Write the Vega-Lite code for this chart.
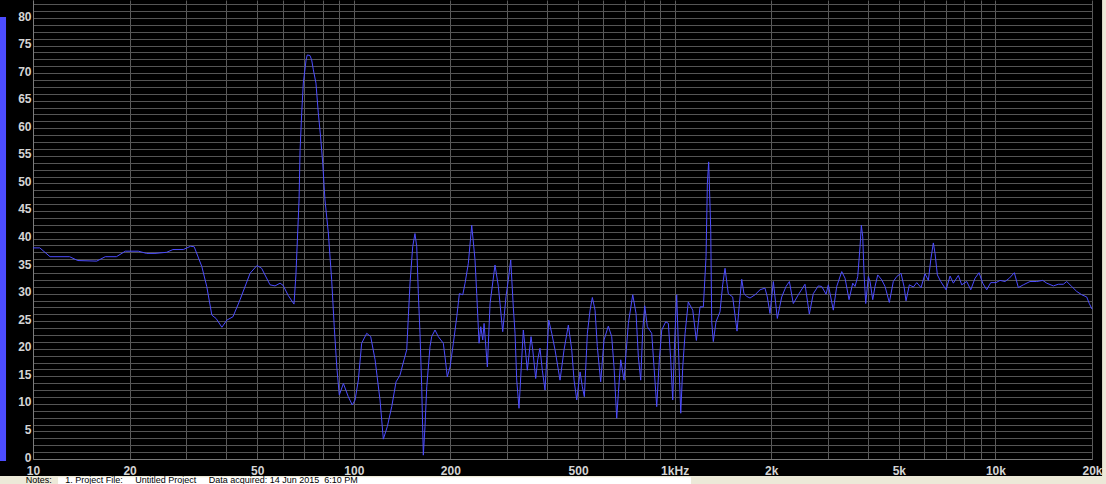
{
  "$schema": "https://vega.github.io/schema/vega-lite/v6.json",
  "autosize": {"type": "none"},
  "padding": {"left": 33, "top": 0, "right": 14, "bottom": 25},
  "width": 1059,
  "height": 459,
  "background": "#000000",
  "config": {
    "view": {"fill": "#000000", "stroke": null}
  },
  "data": {"values": [{"deco": 1}]},
  "datasets": {
    "spectrum": [
      {"f":10,"db":38.3},{"f":10.5,"db":38.3},{"f":11.3,"db":36.7},{"f":13.0,"db":36.7},{"f":13.8,"db":36.0},{"f":15.8,"db":35.9},{"f":16.8,"db":36.7},{"f":18.2,"db":36.7},{"f":19.4,"db":37.7},{"f":21.3,"db":37.7},{"f":22.6,"db":37.3},{"f":24.0,"db":37.3},{"f":26.1,"db":37.5},{"f":27.3,"db":38.0},{"f":29.4,"db":38.0},{"f":31.0,"db":38.6},{"f":31.8,"db":38.5},{"f":33.6,"db":34.9},{"f":34.8,"db":31.3},{"f":36.1,"db":26.1},{"f":37.2,"db":25.5},{"f":38.8,"db":23.9},{"f":40.2,"db":25.2},{"f":42.0,"db":25.8},{"f":44.2,"db":28.9},{"f":47.5,"db":33.7},{"f":49.9,"db":35.1},{"f":51.6,"db":34.6},{"f":54.8,"db":31.6},{"f":56.8,"db":31.4},{"f":58.9,"db":31.9},{"f":60.2,"db":31.5},{"f":62.4,"db":29.7},{"f":65.1,"db":28.1},{"f":66.0,"db":33.4},{"f":67.5,"db":47},{"f":68.0,"db":56},{"f":68.8,"db":62.8},{"f":69.6,"db":68.2},{"f":71.0,"db":72.4},{"f":71.6,"db":73.3},{"f":73.0,"db":73.2},{"f":73.9,"db":72.4},{"f":74.8,"db":70.6},{"f":76.2,"db":68.2},{"f":77.5,"db":62.8},{"f":78.8,"db":58.4},{"f":80.0,"db":53.7},{"f":81.3,"db":47},{"f":83.3,"db":41},{"f":85.3,"db":32.5},{"f":86.9,"db":24},{"f":88.5,"db":16.7},{"f":90.1,"db":11.6},{"f":92.8,"db":13.7},{"f":96.1,"db":11.3},{"f":98.9,"db":9.8},{"f":100.9,"db":10.7},{"f":103.3,"db":14.3},{"f":105.8,"db":21},{"f":109.7,"db":22.8},{"f":112.9,"db":22.2},{"f":116.5,"db":18},{"f":120.7,"db":10.7},{"f":123.6,"db":3.6},{"f":127.2,"db":5.9},{"f":131.3,"db":9.5},{"f":135.4,"db":14},{"f":139.3,"db":15.2},{"f":143.4,"db":18},{"f":146.2,"db":19.8},{"f":147.9,"db":25.8},{"f":149.7,"db":31.9},{"f":152.6,"db":38.5},{"f":155.1,"db":40.9},{"f":157.1,"db":38.5},{"f":158.9,"db":30},{"f":160.8,"db":22.8},{"f":162.8,"db":13.1},{"f":164.7,"db":0.7},{"f":166.7,"db":5.9},{"f":168.8,"db":13.1},{"f":172.8,"db":20.4},{"f":174.9,"db":22.2},{"f":179.1,"db":23.4},{"f":183.4,"db":22.2},{"f":190.1,"db":21},{"f":192.4,"db":18.6},{"f":195.6,"db":14.9},{"f":199.5,"db":16.7},{"f":204.3,"db":21},{"f":209.4,"db":25.8},{"f":213.3,"db":30},{"f":218.6,"db":29.8},{"f":222.2,"db":31.9},{"f":227.5,"db":35.5},{"f":233.1,"db":42.4},{"f":238.7,"db":36.1},{"f":241.6,"db":30},{"f":245.7,"db":21},{"f":248.7,"db":24},{"f":252.3,"db":21.6},{"f":254.7,"db":24.6},{"f":260.8,"db":16.7},{"f":265.9,"db":28.2},{"f":275.5,"db":35.2},{"f":282.2,"db":31.3},{"f":291.2,"db":23.1},{"f":298.2,"db":29.5},{"f":303.1,"db":32.5},{"f":308.4,"db":36.1},{"f":314.2,"db":27.5},{"f":318.1,"db":22.8},{"f":322.0,"db":14.3},{"f":327.3,"db":9.2},{"f":331.4,"db":14.9},{"f":337.6,"db":23.4},{"f":344.2,"db":18.6},{"f":347.4,"db":16.1},{"f":356.8,"db":22.2},{"f":361.2,"db":19.8},{"f":369.0,"db":14.6},{"f":374.3,"db":18},{"f":380.5,"db":20.1},{"f":386.9,"db":16.1},{"f":394.5,"db":12.5},{"f":399.3,"db":18},{"f":405.1,"db":25.2},{"f":414.0,"db":22.8},{"f":423.9,"db":19.8},{"f":439.4,"db":14.3},{"f":452.2,"db":19.8},{"f":466.4,"db":24.3},{"f":477.9,"db":19.8},{"f":485.9,"db":14.3},{"f":495.4,"db":10.7},{"f":507.3,"db":15.8},{"f":515.7,"db":13.1},{"f":523.2,"db":11.3},{"f":534.6,"db":22.8},{"f":545.0,"db":27},{"f":554.1,"db":29.3},{"f":564.9,"db":27},{"f":574.1,"db":20.4},{"f":588.3,"db":14},{"f":602.5,"db":21.6},{"f":621.3,"db":24.1},{"f":636.7,"db":22.2},{"f":647.3,"db":16.7},{"f":660.0,"db":7.4},{"f":667.7,"db":11.9},{"f":679.2,"db":18},{"f":695.6,"db":14.3},{"f":705.6,"db":19.2},{"f":717.4,"db":24.6},{"f":740.4,"db":29.8},{"f":758.2,"db":26.4},{"f":770.7,"db":18.6},{"f":784.1,"db":14.3},{"f":795.4,"db":23.4},{"f":806.9,"db":27.8},{"f":822.1,"db":24},{"f":848.4,"db":22.8},{"f":862.6,"db":16.7},{"f":879.5,"db":9.5},{"f":896.1,"db":18},{"f":911.7,"db":23.4},{"f":938.3,"db":24.9},{"f":956.0,"db":24.6},{"f":972.5,"db":18},{"f":986.5,"db":10.7},{"f":1000.7,"db":21.6},{"f":1015,"db":29.8},{"f":1030,"db":18.6},{"f":1045,"db":8.3},{"f":1060,"db":16.7},{"f":1078,"db":22.8},{"f":1103,"db":28.5},{"f":1139,"db":27},{"f":1169,"db":21.5},{"f":1200,"db":27.6},{"f":1229,"db":27.6},{"f":1253,"db":36.7},{"f":1265,"db":50},{"f":1277,"db":53.9},{"f":1283,"db":50},{"f":1296,"db":41.5},{"f":1305,"db":24.9},{"f":1320,"db":21.3},{"f":1346,"db":24.9},{"f":1385,"db":26.7},{"f":1412,"db":31.6},{"f":1436,"db":34.6},{"f":1470,"db":30},{"f":1517,"db":29.4},{"f":1565,"db":23.2},{"f":1591,"db":28},{"f":1619,"db":32.6},{"f":1645,"db":30},{"f":1678,"db":29.5},{"f":1718,"db":29.2},{"f":1781,"db":29.8},{"f":1846,"db":30.7},{"f":1913,"db":31},{"f":1945,"db":29.4},{"f":1983,"db":26.4},{"f":2031,"db":32.2},{"f":2090,"db":25.5},{"f":2157,"db":29.4},{"f":2225,"db":31.3},{"f":2279,"db":32.2},{"f":2344,"db":28.2},{"f":2430,"db":29.8},{"f":2549,"db":31.7},{"f":2630,"db":26.3},{"f":2706,"db":30},{"f":2805,"db":31.4},{"f":2874,"db":31.3},{"f":2965,"db":29.9},{"f":3014,"db":31.6},{"f":3124,"db":27},{"f":3201,"db":31.3},{"f":3318,"db":34},{"f":3398,"db":32.8},{"f":3497,"db":28.9},{"f":3591,"db":31.9},{"f":3651,"db":31.3},{"f":3722,"db":33.1},{"f":3784,"db":38.5},{"f":3820,"db":42.4},{"f":3858,"db":40.3},{"f":3894,"db":33.7},{"f":3942,"db":28.2},{"f":4016,"db":33.1},{"f":4066,"db":32.2},{"f":4145,"db":28.9},{"f":4214,"db":31.3},{"f":4297,"db":33.4},{"f":4422,"db":32.5},{"f":4528,"db":31.3},{"f":4670,"db":28.4},{"f":4805,"db":32.2},{"f":4924,"db":33.1},{"f":5078,"db":33.7},{"f":5189,"db":31.3},{"f":5264,"db":28.7},{"f":5391,"db":31.6},{"f":5548,"db":31.2},{"f":5685,"db":32},{"f":5863,"db":31.1},{"f":6034,"db":33.6},{"f":6179,"db":32.4},{"f":6286,"db":36.1},{"f":6404,"db":39.2},{"f":6483,"db":37.3},{"f":6592,"db":33.4},{"f":6754,"db":32.2},{"f":7016,"db":30.7},{"f":7221,"db":33.2},{"f":7394,"db":31.9},{"f":7663,"db":33.3},{"f":7852,"db":31.6},{"f":8139,"db":32.2},{"f":8377,"db":30.7},{"f":8640,"db":32.8},{"f":8891,"db":33.8},{"f":9129,"db":31.9},{"f":9395,"db":30.7},{"f":9669,"db":32},{"f":10044,"db":32},{"f":10335,"db":32.4},{"f":10713,"db":32.2},{"f":11050,"db":32.8},{"f":11454,"db":33.8},{"f":11787,"db":31.1},{"f":12218,"db":31.6},{"f":12818,"db":32.2},{"f":13449,"db":32.2},{"f":14041,"db":32.4},{"f":14451,"db":31.9},{"f":15153,"db":31.4},{"f":15704,"db":31.7},{"f":16278,"db":31.7},{"f":16680,"db":32.2},{"f":17290,"db":31.3},{"f":17921,"db":30.4},{"f":18577,"db":29.8},{"f":19255,"db":29.4},{"f":19618,"db":28.2},{"f":20000,"db":27.2}
    ]
  },
  "encoding": {
    "x": {
      "type": "quantitative",
      "scale": {"type": "log", "domain": [10, 20000], "nice": false},
      "axis": {
        "title": null,
        "values": [10,20,30,40,50,60,70,80,90,100,200,300,400,500,600,700,800,900,1000,2000,3000,4000,5000,6000,7000,8000,9000,10000,20000],
        "labelExpr": "indexof([10,20,50,100,200,500], datum.value) >= 0 ? '' + datum.value : (datum.value == 1000 ? '1kHz' : (indexof([2000,5000,10000,20000], datum.value) >= 0 ? (datum.value / 1000) + 'k' : ''))",
        "labelOverlap": false,
        "labelFlush": false,
        "labelPadding": 6,
        "labelFont": "Liberation Sans",
        "labelFontWeight": "bold",
        "labelFontSize": 12,
        "labelColor": "#d4d4d4",
        "ticks": false,
        "domain": true,
        "domainColor": "#7a7a7a",
        "grid": true,
        "gridColor": "#5a5a5a",
        "gridWidth": 1
      }
    },
    "y": {
      "type": "quantitative",
      "scale": {"domain": [0, 83.27], "nice": false, "zero": false},
      "axis": {
        "title": null,
        "values": [0,1.25,2.5,3.75,5,6.25,7.5,8.75,10,11.25,12.5,13.75,15,16.25,17.5,18.75,20,21.25,22.5,23.75,25,26.25,27.5,28.75,30,31.25,32.5,33.75,35,36.25,37.5,38.75,40,41.25,42.5,43.75,45,46.25,47.5,48.75,50,51.25,52.5,53.75,55,56.25,57.5,58.75,60,61.25,62.5,63.75,65,66.25,67.5,68.75,70,71.25,72.5,73.75,75,76.25,77.5,78.75,80,81.25,82.5],
        "labelExpr": "datum.value % 5 == 0 ? '' + datum.value : ''",
        "labelOverlap": false,
        "labelFlush": false,
        "labelPadding": 2,
        "labelOffset": -2,
        "labelFont": "Liberation Sans",
        "labelFontWeight": "bold",
        "labelFontSize": 12,
        "labelColor": "#d4d4d4",
        "ticks": false,
        "domain": true,
        "domainColor": "#7a7a7a",
        "grid": true,
        "gridColor": "#555555",
        "gridWidth": 1
      }
    }
  },
  "layer": [
    {
      "data": {"name": "spectrum"},
      "mark": {"type": "line", "color": "#4c4cff", "strokeWidth": 1, "interpolate": "linear"},
      "encoding": {
        "x": {"field": "f", "type": "quantitative"},
        "y": {"field": "db", "type": "quantitative"}
      }
    },
    {
      "mark": {"type": "rect", "color": "#ece9d8"},
      "encoding": {
        "x": {"datum": 7, "type": "quantitative"},
        "x2": {"datum": 40000},
        "y": {"datum": -3.08, "type": "quantitative"},
        "y2": {"datum": -8}
      }
    },
    {
      "mark": {"type": "rect", "color": "#ece9d8"},
      "encoding": {
        "x": {"datum": 21500, "type": "quantitative"},
        "x2": {"datum": 40000},
        "y": {"datum": 95, "type": "quantitative"},
        "y2": {"datum": -8}
      }
    },
    {
      "mark": {"type": "rect", "color": "#ffffff"},
      "encoding": {
        "x": {"datum": 11.97, "type": "quantitative"},
        "x2": {"datum": 1125},
        "y": {"datum": -3.3, "type": "quantitative"},
        "y2": {"datum": -8}
      }
    },
    {
      "mark": {"type": "rect", "color": "#4c4cff"},
      "encoding": {
        "x": {"datum": 7.5, "type": "quantitative"},
        "x2": {"datum": 8.24},
        "y": {"datum": 80.2, "type": "quantitative"},
        "y2": {"datum": -0.36}
      }
    },
    {
      "mark": {"type": "text", "align": "left", "baseline": "alphabetic", "font": "Liberation Sans", "fontSize": 9, "color": "#000000"},
      "encoding": {
        "x": {"datum": 9.5, "type": "quantitative"},
        "y": {"datum": -4.4, "type": "quantitative"},
        "text": {"value": "Notes:"}
      }
    },
    {
      "mark": {"type": "text", "align": "left", "baseline": "alphabetic", "font": "Liberation Sans", "fontSize": 9, "color": "#000000"},
      "encoding": {
        "x": {"datum": 12.6, "type": "quantitative"},
        "y": {"datum": -4.4, "type": "quantitative"},
        "text": {"value": "1. Project File:\u00a0\u00a0\u00a0\u00a0\u00a0Untitled Project\u00a0\u00a0\u00a0\u00a0\u00a0Data acquired: 14 Jun 2015\u00a0\u00a06:10 PM"}
      }
    }
  ]
}
